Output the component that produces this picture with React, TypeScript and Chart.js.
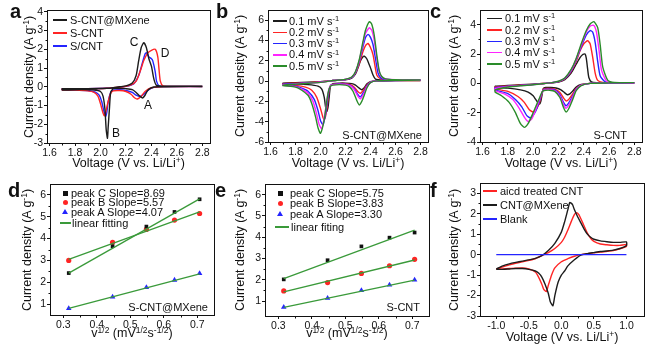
import React, { useEffect, useRef } from "react";
import { Chart, registerables } from "chart.js";
Chart.register(...registerables);

const FONT = "'Liberation Sans', Arial, Helvetica, sans-serif";
const BLACK = "#1c1c1c", RED = "#ff2424", BLUE = "#2424ff", MAGENTA = "#ff24ff", GREEN = "#2a8c2a", FIT = "#3a9a3a";

// ---- ticks ----
const cvXTicks = [1.6, 1.8, 2.0, 2.2, 2.4, 2.6, 2.8];
const cvXMinor = [1.7, 1.9, 2.1, 2.3, 2.5, 2.7];
const aYTicks = [-3, -2, -1, 0, 1, 2, 3, 4];
const aYMinor = [-2.5, -1.5, -0.5, 0.5, 1.5, 2.5, 3.5];
const bYTicks = [-6, -4, -2, 0, 2, 4, 6];
const bYMinor = [-5, -3, -1, 1, 3, 5];
const cYTicks = [-4, -2, 0, 2, 4];
const cYMinor = [-3, -1, 1, 3];
const rateXTicks = [0.3, 0.4, 0.5, 0.6, 0.7];
const rateXMinor = [0.35, 0.45, 0.55, 0.65];
const rateYTicks = [1, 2, 3, 4, 5, 6];
const rateYMinor = [1.5, 2.5, 3.5, 4.5, 5.5];
const fXTicks = [-1.0, -0.5, 0.0, 0.5, 1.0];
const fXMinor = [-0.75, -0.25, 0.25, 0.75];
const fYTicks = [-3, -2, -1, 0, 1, 2, 3];
const fYMinor = [-2.5, -1.5, -0.5, 0.5, 1.5, 2.5];

// ---- legends ----
const aNames = ["S-CNT@MXene", "S-CNT", "S/CNT"];
const scanRates = ["0.1", "0.2", "0.3", "0.4", "0.5"];
const fNames = ["aicd treated CNT", "CNT@MXene", "Blank"];
const dSlopes = ["8.69", "5.57", "4.07"];
const eSlopes = ["5.75", "3.83", "3.30"];

// ---- panel a ----
const aMxV = [2.8, 2.6, 2.45, 2.4, 2.37, 2.35, 2.33, 2.31, 2.28, 2.25, 2.2, 2.15, 2.1, 2.08, 2.07, 2.06, 2.055, 2.045, 2.035, 2.02, 2.0, 1.95, 1.85, 1.7, 1.7, 1.9, 2.05, 2.1, 2.15, 2.2, 2.25, 2.28, 2.3, 2.32, 2.34, 2.36, 2.38, 2.4, 2.42, 2.44, 2.5, 2.8];
const aMxI = [0.02, 0.02, 0.0, -0.05, -0.2, -0.45, -0.6, -0.5, -0.3, -0.15, -0.1, -0.08, -0.1, -0.3, -1.2, -2.2, -2.75, -2.3, -1.2, -0.5, -0.25, -0.17, -0.15, -0.17, -0.1, -0.1, -0.08, -0.05, 0.0, 0.05, 0.2, 0.6, 1.4, 2.1, 2.35, 2.1, 1.5, 1.1, 0.4, 0.08, 0.03, 0.03];
const aScV = [2.8, 2.5, 2.4, 2.35, 2.32, 2.29, 2.27, 2.24, 2.2, 2.15, 2.1, 2.08, 2.06, 2.04, 2.03, 2.02, 2.0, 1.98, 1.95, 1.9, 1.8, 1.7, 1.7, 1.9, 2.05, 2.1, 2.18, 2.24, 2.28, 2.31, 2.34, 2.37, 2.4, 2.43, 2.45, 2.46, 2.47, 2.49, 2.55, 2.8];
const aScI = [0.02, 0.01, -0.05, -0.25, -0.5, -0.65, -0.6, -0.4, -0.25, -0.2, -0.22, -0.35, -0.8, -1.4, -1.55, -1.4, -0.9, -0.5, -0.3, -0.22, -0.18, -0.17, -0.1, -0.1, -0.08, -0.05, 0.0, 0.1, 0.3, 0.8, 1.4, 1.8, 1.95, 2.0, 1.6, 0.9, 0.3, 0.05, 0.02, 0.02];
const aSlV = [2.8, 2.5, 2.42, 2.38, 2.34, 2.31, 2.28, 2.25, 2.2, 2.15, 2.1, 2.08, 2.06, 2.05, 2.04, 2.03, 2.01, 1.99, 1.96, 1.9, 1.8, 1.7, 1.7, 1.9, 2.05, 2.12, 2.2, 2.26, 2.3, 2.33, 2.35, 2.36, 2.38, 2.4, 2.41, 2.43, 2.44, 2.46, 2.5, 2.8];
const aSlI = [0.02, 0.01, -0.03, -0.15, -0.4, -0.52, -0.45, -0.3, -0.2, -0.15, -0.18, -0.3, -0.8, -1.35, -1.58, -1.4, -0.8, -0.45, -0.28, -0.2, -0.17, -0.16, -0.1, -0.1, -0.08, -0.05, 0.02, 0.15, 0.6, 1.3, 1.75, 1.82, 1.6, 1.5, 1.4, 0.8, 0.3, 0.05, 0.02, 0.02];

// ---- panel b (S-CNT@MXene, scan rates) ----
const b1V = [2.8, 2.6, 2.45, 2.4, 2.37, 2.35, 2.33, 2.31, 2.28, 2.25, 2.2, 2.15, 2.1, 2.08, 2.07, 2.06, 2.05, 2.04, 2.03, 2.01, 1.98, 1.9, 1.8, 1.7, 1.7, 1.8, 1.9, 2.0, 2.05, 2.1, 2.15, 2.2, 2.25, 2.28, 2.3, 2.32, 2.34, 2.35, 2.37, 2.39, 2.4, 2.42, 2.44, 2.5, 2.6, 2.8];
const b1I = [0.05, 0.05, 0.02, -0.05, -0.3, -0.65, -0.85, -0.7, -0.4, -0.25, -0.2, -0.2, -0.25, -0.5, -1.5, -2.6, -3.0, -2.5, -1.6, -0.8, -0.5, -0.35, -0.3, -0.3, -0.2, -0.15, -0.1, -0.05, 0.0, 0.05, 0.08, 0.12, 0.3, 0.7, 1.3, 2.0, 2.4, 2.45, 2.2, 1.6, 1.3, 0.6, 0.2, 0.1, 0.08, 0.07];
const b2V = [2.8, 2.6, 2.45, 2.4, 2.37, 2.35, 2.32, 2.3, 2.27, 2.24, 2.2, 2.15, 2.1, 2.08, 2.07, 2.06, 2.05, 2.04, 2.03, 2.02, 2.0, 1.97, 1.93, 1.88, 1.8, 1.7, 1.7, 1.8, 1.9, 2.0, 2.05, 2.1, 2.15, 2.2, 2.25, 2.28, 2.31, 2.34, 2.36, 2.38, 2.4, 2.42, 2.44, 2.45, 2.47, 2.5, 2.6, 2.8];
const b2I = [0.06, 0.05, 0.02, -0.08, -0.4, -0.8, -1.2, -1.05, -0.6, -0.35, -0.25, -0.25, -0.3, -0.45, -0.9, -1.8, -2.8, -3.5, -3.8, -3.6, -2.7, -1.6, -0.9, -0.6, -0.42, -0.35, -0.25, -0.2, -0.15, -0.08, -0.02, 0.05, 0.1, 0.15, 0.35, 0.8, 1.7, 2.9, 3.5, 3.7, 3.3, 2.6, 1.2, 0.6, 0.3, 0.15, 0.1, 0.08];
const b3V = [2.8, 2.6, 2.45, 2.4, 2.37, 2.35, 2.32, 2.3, 2.27, 2.24, 2.2, 2.15, 2.1, 2.08, 2.07, 2.06, 2.05, 2.04, 2.02, 2.0, 1.98, 1.95, 1.9, 1.85, 1.8, 1.7, 1.7, 1.8, 1.9, 2.0, 2.05, 2.1, 2.15, 2.2, 2.25, 2.28, 2.31, 2.34, 2.36, 2.38, 2.4, 2.42, 2.44, 2.46, 2.48, 2.5, 2.6, 2.8];
const b3I = [0.07, 0.06, 0.02, -0.1, -0.5, -1.0, -1.55, -1.35, -0.75, -0.42, -0.3, -0.28, -0.32, -0.45, -0.8, -1.5, -2.4, -3.3, -4.3, -3.9, -2.9, -1.8, -1.0, -0.7, -0.5, -0.4, -0.3, -0.25, -0.18, -0.1, -0.03, 0.05, 0.1, 0.15, 0.35, 0.85, 1.9, 3.4, 4.3, 4.6, 4.3, 3.6, 2.2, 0.8, 0.35, 0.2, 0.12, 0.1];
const b4V = [2.8, 2.6, 2.45, 2.4, 2.37, 2.35, 2.32, 2.3, 2.27, 2.24, 2.2, 2.15, 2.1, 2.08, 2.07, 2.06, 2.05, 2.03, 2.01, 1.99, 1.97, 1.94, 1.9, 1.85, 1.8, 1.7, 1.7, 1.8, 1.9, 2.0, 2.05, 2.1, 2.15, 2.2, 2.25, 2.28, 2.31, 2.34, 2.36, 2.39, 2.41, 2.43, 2.45, 2.47, 2.49, 2.52, 2.6, 2.8];
const b4I = [0.08, 0.07, 0.02, -0.12, -0.6, -1.15, -1.75, -1.5, -0.85, -0.48, -0.33, -0.3, -0.35, -0.45, -0.7, -1.2, -2.0, -3.6, -4.7, -4.3, -3.3, -2.0, -1.2, -0.8, -0.55, -0.42, -0.35, -0.28, -0.2, -0.12, -0.04, 0.05, 0.1, 0.16, 0.38, 0.9, 2.0, 3.7, 4.7, 5.25, 5.0, 4.0, 2.3, 0.9, 0.4, 0.2, 0.13, 0.1];
const b5V = [2.8, 2.6, 2.45, 2.4, 2.37, 2.35, 2.33, 2.31, 2.29, 2.26, 2.23, 2.2, 2.15, 2.1, 2.08, 2.07, 2.06, 2.05, 2.03, 2.0, 1.98, 1.96, 1.93, 1.9, 1.85, 1.8, 1.7, 1.7, 1.8, 1.9, 2.0, 2.05, 2.1, 2.15, 2.2, 2.25, 2.28, 2.31, 2.34, 2.36, 2.39, 2.41, 2.43, 2.45, 2.47, 2.49, 2.52, 2.6, 2.8];
const b5I = [0.09, 0.08, 0.02, -0.15, -0.7, -1.4, -2.0, -2.35, -1.9, -1.0, -0.55, -0.4, -0.35, -0.4, -0.5, -0.75, -1.2, -2.0, -3.8, -5.15, -4.6, -3.5, -2.2, -1.4, -0.9, -0.6, -0.45, -0.4, -0.3, -0.22, -0.13, -0.05, 0.05, 0.1, 0.17, 0.4, 0.95, 2.1, 3.9, 5.0, 5.85, 5.6, 4.5, 2.6, 1.0, 0.45, 0.22, 0.14, 0.1];

// ---- panel c (S-CNT, scan rates) ----
const c1V = [2.8, 2.6, 2.45, 2.38, 2.34, 2.31, 2.29, 2.27, 2.25, 2.22, 2.18, 2.14, 2.1, 2.08, 2.07, 2.06, 2.05, 2.04, 2.02, 2.0, 1.96, 1.9, 1.8, 1.7, 1.7, 1.8, 1.9, 2.0, 2.05, 2.1, 2.15, 2.2, 2.25, 2.3, 2.34, 2.37, 2.39, 2.41, 2.42, 2.43, 2.44, 2.46, 2.5, 2.6, 2.8];
const c1I = [0.02, 0.02, 0.0, -0.08, -0.25, -0.55, -0.72, -0.78, -0.65, -0.45, -0.32, -0.28, -0.28, -0.35, -0.8, -1.25, -1.42, -1.35, -1.1, -0.85, -0.6, -0.45, -0.33, -0.28, -0.2, -0.15, -0.1, -0.06, -0.03, 0.0, 0.03, 0.08, 0.25, 0.7, 1.3, 1.75, 1.95, 2.0, 1.7, 1.0, 0.4, 0.1, 0.04, 0.03, 0.02];
const c2V = [2.8, 2.6, 2.45, 2.38, 2.34, 2.31, 2.28, 2.26, 2.24, 2.21, 2.17, 2.13, 2.1, 2.08, 2.07, 2.05, 2.03, 2.0, 1.97, 1.93, 1.88, 1.8, 1.7, 1.7, 1.8, 1.9, 2.0, 2.05, 2.1, 2.15, 2.2, 2.25, 2.3, 2.34, 2.37, 2.4, 2.43, 2.45, 2.47, 2.49, 2.51, 2.55, 2.6, 2.8];
const c2I = [0.03, 0.02, 0.0, -0.1, -0.35, -0.75, -1.1, -1.2, -1.0, -0.6, -0.4, -0.35, -0.35, -0.4, -0.7, -1.3, -1.7, -1.95, -1.8, -1.3, -0.9, -0.55, -0.38, -0.25, -0.18, -0.12, -0.07, -0.03, 0.0, 0.04, 0.1, 0.3, 0.8, 1.5, 2.2, 2.7, 2.9, 2.7, 1.8, 0.7, 0.2, 0.06, 0.04, 0.03];
const c3V = [2.8, 2.6, 2.45, 2.38, 2.34, 2.31, 2.28, 2.26, 2.24, 2.21, 2.17, 2.13, 2.1, 2.08, 2.07, 2.05, 2.02, 1.98, 1.95, 1.91, 1.86, 1.8, 1.7, 1.7, 1.8, 1.9, 2.0, 2.05, 2.1, 2.15, 2.2, 2.25, 2.3, 2.34, 2.38, 2.42, 2.45, 2.47, 2.49, 2.51, 2.53, 2.57, 2.62, 2.8];
const c3I = [0.03, 0.02, 0.0, -0.12, -0.4, -0.9, -1.35, -1.53, -1.3, -0.75, -0.45, -0.4, -0.4, -0.45, -0.65, -1.2, -1.9, -2.35, -2.2, -1.6, -1.1, -0.7, -0.45, -0.3, -0.2, -0.14, -0.08, -0.04, 0.0, 0.05, 0.12, 0.33, 0.85, 1.6, 2.5, 3.3, 3.6, 3.5, 2.8, 1.5, 0.5, 0.1, 0.05, 0.03];
const c4V = [2.8, 2.6, 2.45, 2.38, 2.34, 2.31, 2.28, 2.26, 2.24, 2.21, 2.17, 2.13, 2.1, 2.08, 2.07, 2.05, 2.02, 1.99, 1.96, 1.93, 1.89, 1.84, 1.78, 1.7, 1.7, 1.8, 1.9, 2.0, 2.05, 2.1, 2.15, 2.2, 2.25, 2.3, 2.34, 2.38, 2.42, 2.45, 2.48, 2.5, 2.52, 2.54, 2.58, 2.63, 2.8];
const c4I = [0.04, 0.03, 0.0, -0.13, -0.45, -1.0, -1.5, -1.7, -1.45, -0.85, -0.5, -0.43, -0.43, -0.48, -0.62, -1.1, -1.8, -2.4, -2.6, -2.3, -1.7, -1.1, -0.75, -0.5, -0.35, -0.22, -0.15, -0.09, -0.05, 0.0, 0.05, 0.13, 0.35, 0.9, 1.65, 2.6, 3.5, 3.9, 3.95, 3.5, 2.3, 0.9, 0.15, 0.05, 0.03];
const c5V = [2.8, 2.6, 2.45, 2.38, 2.34, 2.31, 2.28, 2.26, 2.24, 2.21, 2.17, 2.13, 2.1, 2.08, 2.07, 2.05, 2.02, 1.99, 1.96, 1.93, 1.9, 1.86, 1.81, 1.75, 1.7, 1.7, 1.8, 1.9, 2.0, 2.05, 2.1, 2.15, 2.2, 2.25, 2.3, 2.34, 2.38, 2.42, 2.45, 2.48, 2.51, 2.53, 2.55, 2.59, 2.64, 2.8];
const c5I = [0.05, 0.03, 0.0, -0.15, -0.5, -1.15, -1.75, -1.95, -1.65, -0.95, -0.55, -0.47, -0.47, -0.5, -0.6, -1.0, -1.6, -2.2, -2.75, -3.0, -2.75, -2.0, -1.3, -0.85, -0.6, -0.45, -0.25, -0.16, -0.1, -0.05, 0.0, 0.05, 0.14, 0.37, 0.95, 1.7, 2.7, 3.6, 4.05, 4.2, 3.8, 2.6, 1.1, 0.2, 0.06, 0.04];

// ---- panel d (S-CNT@MXene peak currents) ----
const sqrtRate = [0.316, 0.447, 0.548, 0.632, 0.707];
const dPeakC = [2.42, 3.65, 4.55, 5.22, 5.8];
const dPeakB = [3.0, 3.83, 4.42, 4.85, 5.15];
const dPeakA = [0.8, 1.33, 1.76, 2.1, 2.4];
const fitX = [0.316, 0.707];
const dFitC = [2.42, 5.82];
const dFitB = [3.05, 5.22];
const dFitA = [0.8, 2.38];

// ---- panel e (S-CNT peak currents) ----
const ePeakC = [2.02, 2.92, 3.57, 3.98, 4.22];
const ePeakB = [1.48, 1.87, 2.3, 2.66, 2.96];
const ePeakA = [0.71, 1.14, 1.5, 1.76, 1.99];
const eFitC = [2.06, 4.33];
const eFitB = [1.43, 2.93];
const eFitA = [0.7, 1.98];

// ---- panel f (symmetric cells) ----
const fRedV = [-1.0, -0.8, -0.6, -0.4, -0.3, -0.2, -0.1, 0.0, 0.05, 0.1, 0.15, 0.2, 0.23, 0.27, 0.3, 0.35, 0.4, 0.45, 0.5, 0.6, 0.7, 0.8, 0.9, 1.0, 1.0, 0.9, 0.8, 0.6, 0.4, 0.3, 0.2, 0.1, 0.0, -0.1, -0.15, -0.2, -0.23, -0.27, -0.3, -0.35, -0.4, -0.5, -0.6, -0.8, -1.0];
const fRedI = [-0.7, -0.5, -0.35, -0.2, -0.05, 0.1, 0.3, 0.6, 0.85, 1.2, 1.6, 1.95, 2.05, 1.95, 1.75, 1.4, 1.05, 0.8, 0.65, 0.52, 0.48, 0.45, 0.45, 0.5, 0.4, 0.28, 0.2, 0.12, 0.05, 0.0, -0.08, -0.2, -0.35, -0.65, -1.0, -1.5, -1.8, -1.7, -1.45, -1.1, -0.85, -0.7, -0.65, -0.68, -0.72];
const fBlackV = [-1.0, -0.9, -0.8, -0.7, -0.6, -0.5, -0.4, -0.3, -0.2, -0.1, 0.0, 0.05, 0.1, 0.13, 0.17, 0.2, 0.25, 0.3, 0.35, 0.4, 0.45, 0.5, 0.6, 0.7, 0.8, 0.9, 1.0, 1.0, 0.9, 0.8, 0.7, 0.6, 0.5, 0.4, 0.3, 0.2, 0.1, 0.05, 0.0, -0.05, -0.1, -0.13, -0.17, -0.2, -0.25, -0.3, -0.35, -0.4, -0.5, -0.6, -0.7, -0.8, -0.9, -1.0];
const fBlackI = [-0.7, -0.55, -0.45, -0.38, -0.32, -0.26, -0.18, -0.05, 0.2, 0.55, 1.1, 1.6, 2.2, 2.55, 2.45, 2.2, 1.85, 1.55, 1.25, 1.0, 0.85, 0.75, 0.67, 0.63, 0.6, 0.6, 0.62, 0.45, 0.3, 0.22, 0.18, 0.15, 0.1, 0.05, -0.02, -0.25, -0.55, -0.8, -1.0, -1.35, -2.0, -2.5, -2.3, -1.9, -1.45, -1.1, -0.9, -0.8, -0.72, -0.68, -0.68, -0.7, -0.72, -0.72];
const fBlankV = [-1.0, 1.0];
const fBlankI = [0.0, 0.0];

// ---------------------------------------------------------------
const zip = (xs: number[], ys: number[]) => xs.map((x, i) => ({ x, y: ys[i] }));
const curve = (xs: number[], ys: number[], color: string) => ({
  data: zip(xs, ys), showLine: true, borderColor: color, backgroundColor: color,
  borderWidth: 1.4, pointRadius: 0, tension: 0.2,
});
const markers = (ys: number[], color: string, style: string, r: number) => ({
  data: zip(sqrtRate, ys), showLine: false, borderColor: color, backgroundColor: color,
  pointStyle: style, pointRadius: r, borderWidth: 0,
});
const fitLine = (ys: number[]) => ({
  data: zip(fitX, ys), showLine: true, borderColor: FIT, borderWidth: 1.3, pointRadius: 0, tension: 0,
});

// frame + minor ticks (positions come from the chart's own scales)
const framePlugin = {
  id: "frame",
  afterDraw(chart: any, _args: any, opts: any) {
    const { ctx, chartArea: a, scales } = chart;
    const L = Math.round(a.left) + 0.5, T = Math.round(a.top) + 0.5;
    const R = Math.round(a.right) + 0.5, B = Math.round(a.bottom) + 0.5;
    ctx.save();
    ctx.strokeStyle = "#111";
    ctx.lineWidth = 1;
    ctx.strokeRect(L, T, R - L, B - T);
    ctx.beginPath();
    (opts.xMinor || []).forEach((v: number) => {
      const px = Math.round(scales.x.getPixelForValue(v)) + 0.5;
      ctx.moveTo(px, B); ctx.lineTo(px, B + 2);
    });
    (opts.yMinor || []).forEach((v: number) => {
      const py = Math.round(scales.y.getPixelForValue(v)) + 0.5;
      ctx.moveTo(L, py); ctx.lineTo(L - 2, py);
    });
    ctx.stroke();
    ctx.restore();
  },
};

const YW = 30, XH = 20, PT = 10, PR = 10;

function Panel(p: any) {
  const ref = useRef<HTMLCanvasElement>(null);
  const w = p.R - p.L + YW + PR;
  const h = p.B - p.T + PT + XH;
  useEffect(() => {
    const tickFont = { family: FONT, size: 10.5 };
    const chart = new Chart(ref.current as HTMLCanvasElement, {
      type: "scatter",
      data: { datasets: p.datasets },
      options: {
        responsive: false,
        animation: false,
        devicePixelRatio: 1,
        layout: { padding: { top: PT, right: PR, left: 0, bottom: 0 } },
        plugins: { legend: { display: false }, tooltip: { enabled: false },
          frame: { xMinor: p.xMinor, yMinor: p.yMinor } },
        scales: {
          x: {
            type: "linear", min: p.xMin, max: p.xMax,
            afterBuildTicks: (s: any) => { s.ticks = p.xTicks.map((v: number) => ({ value: v })); },
            afterFit: (s: any) => { s.height = XH; },
            grid: { drawOnChartArea: false, tickLength: 3, color: "#111" },
            border: { display: false },
            ticks: { padding: 1, color: "#111", font: tickFont, maxRotation: 0, autoSkip: false,
              callback: (v: any) => Number(v).toFixed(1) },
          },
          y: {
            type: "linear", min: p.yMin, max: p.yMax,
            afterBuildTicks: (s: any) => { s.ticks = p.yTicks.map((v: number) => ({ value: v })); },
            afterFit: (s: any) => { s.width = YW; },
            grid: { drawOnChartArea: false, tickLength: 3, color: "#111" },
            border: { display: false },
            ticks: { padding: 1, color: "#111", font: tickFont, autoSkip: false,
              callback: (v: any) => String(Number(v)) },
          },
        },
      } as any,
      plugins: [framePlugin],
    });
    return () => chart.destroy();
  }, []);
  return (
    <canvas ref={ref} width={w} height={h}
      style={{ position: "absolute", left: p.L - YW, top: p.T - PT, width: w, height: h }} />
  );
}

const Sup = ({ children }: any) => (
  <span style={{ fontSize: "0.68em", position: "relative", top: "-0.5em" }}>{children}</span>
);

function Txt({ x, y, size = 11, bold = false, align = "left", color = "#111", children }: any) {
  const tx = align === "center" ? "translateX(-50%)" : align === "right" ? "translateX(-100%)" : "none";
  return (
    <div style={{ position: "absolute", left: x, top: y - 0.846 * size, fontSize: size, lineHeight: `${size}px`,
      fontWeight: bold ? "bold" : "normal", whiteSpace: "nowrap", transform: tx, color, fontFamily: FONT }}>
      {children}
    </div>
  );
}

function YTitle({ cx, cy }: any) {
  return (
    <div style={{ position: "absolute", left: cx, top: cy, transform: "translate(-50%,-50%) rotate(-90deg)",
      whiteSpace: "nowrap", fontSize: 12.5, lineHeight: "13px", fontFamily: FONT, color: "#111" }}>
      Current density (A g<Sup>-1</Sup>)
    </div>
  );
}

const VoltTitle = ({ cx, cy }: any) => (
  <Txt x={cx} y={cy + 4.5} size={12.5} align="center">Voltage (V vs. Li/Li<Sup>+</Sup>)</Txt>
);
const RateTitle = ({ cx, cy }: any) => (
  <Txt x={cx} y={cy + 4.5} size={12.5} align="center">v<Sup>1/2</Sup> (mV<Sup>1/2</Sup>s<Sup>-1/2</Sup>)</Txt>
);

const LLine = ({ x1, x2, y, color }: any) => (
  <div style={{ position: "absolute", left: x1, top: y - 0.75, width: x2 - x1, height: 1.5, background: color }} />
);

function Marker({ x, y, kind, color }: any) {
  if (kind === "tri")
    return <div style={{ position: "absolute", left: x - 3, top: y - 3, width: 0, height: 0,
      borderLeft: "3px solid transparent", borderRight: "3px solid transparent", borderBottom: `5px solid ${color}` }} />;
  const r = kind === "circle" ? "50%" : "0";
  return <div style={{ position: "absolute", left: x - 2.5, top: y - 2.5, width: 5, height: 5, borderRadius: r, background: color }} />;
}

const rateColors = [BLACK, RED, BLUE, MAGENTA, GREEN];

export default function App() {
  const aSets = [curve(aMxV, aMxI, BLACK), curve(aScV, aScI, RED), curve(aSlV, aSlI, BLUE)];
  const bSets = [curve(b5V, b5I, GREEN), curve(b4V, b4I, MAGENTA), curve(b3V, b3I, BLUE), curve(b2V, b2I, RED), curve(b1V, b1I, BLACK)];
  const cSets = [curve(c5V, c5I, GREEN), curve(c4V, c4I, MAGENTA), curve(c3V, c3I, BLUE), curve(c2V, c2I, RED), curve(c1V, c1I, BLACK)];
  const dSets = [fitLine(dFitC), fitLine(dFitB), fitLine(dFitA),
    markers(dPeakC, "#111", "rect", 2.6), markers(dPeakB, RED, "circle", 2.6), markers(dPeakA, BLUE, "triangle", 3.2)];
  const eSets = [fitLine(eFitC), fitLine(eFitB), fitLine(eFitA),
    markers(ePeakC, "#111", "rect", 2.6), markers(ePeakB, RED, "circle", 2.6), markers(ePeakA, BLUE, "triangle", 3.2)];
  const fSets = [curve(fBlankV, fBlankI, BLUE), curve(fBlackV, fBlackI, BLACK), curve(fRedV, fRedI, RED)];

  const cvRange = { xMin: 1.58, xMax: 2.86, xTicks: cvXTicks, xMinor: cvXMinor };
  const rateRange = { xMin: 0.26, xMax: 0.75, xTicks: rateXTicks, xMinor: rateXMinor, yTicks: rateYTicks, yMinor: rateYMinor };

  return (
    <div style={{ position: "fixed", left: 0, top: 0, width: 653, height: 350, background: "#fff", fontFamily: FONT, overflow: "hidden" }}>
      {/* a */}
      <Panel L={47} T={10} R={210} B={143} {...cvRange} yMin={-3} yMax={4.1} yTicks={aYTicks} yMinor={aYMinor} datasets={aSets} />
      <Txt x={10} y={18} size={20} bold>a</Txt>
      <YTitle cx={30} cy={76.5} />
      <VoltTitle cx={128.5} cy={163} />
      {aNames.map((n, i) => (
        <React.Fragment key={n}>
          <LLine x1={53} x2={67} y={20 + i * 13} color={[BLACK, RED, BLUE][i]} />
          <Txt x={70} y={24 + i * 13}>{n}</Txt>
        </React.Fragment>
      ))}
      <Txt x={134} y={46} size={12} align="center">C</Txt>
      <Txt x={165} y={57} size={12} align="center">D</Txt>
      <Txt x={148} y={109} size={12} align="center">A</Txt>
      <Txt x={116} y={137} size={12} align="center">B</Txt>

      {/* b */}
      <Panel L={268} T={10} R={428} B={142} {...cvRange} yMin={-6} yMax={7} yTicks={bYTicks} yMinor={bYMinor} datasets={bSets} />
      <Txt x={216} y={18} size={20} bold>b</Txt>
      <YTitle cx={241} cy={76} />
      <VoltTitle cx={348} cy={163} />
      {scanRates.map((r, i) => (
        <React.Fragment key={r}>
          <LLine x1={273} x2={287} y={21 + i * 11.25} color={rateColors[i]} />
          <Txt x={289} y={25 + i * 11.25}>{r} mV s<Sup>-1</Sup></Txt>
        </React.Fragment>
      ))}
      <Txt x={422} y={139} align="right">S-CNT@MXene</Txt>

      {/* c */}
      <Panel L={480} T={10} R={642} B={142} {...cvRange} yMin={-4} yMax={5} yTicks={cYTicks} yMinor={cYMinor} datasets={cSets} />
      <Txt x={430} y={18} size={20} bold>c</Txt>
      <YTitle cx={455} cy={76} />
      <VoltTitle cx={561} cy={163} />
      {scanRates.map((r, i) => (
        <React.Fragment key={r}>
          <LLine x1={487} x2={502} y={18.5 + i * 11.4} color={rateColors[i]} />
          <Txt x={505} y={22.5 + i * 11.4}>{r} mV s<Sup>-1</Sup></Txt>
        </React.Fragment>
      ))}
      <Txt x={627} y={139} align="right">S-CNT</Txt>

      {/* d */}
      <Panel L={50} T={184} R={214} B={315} {...rateRange} yMin={0.5} yMax={6.5} datasets={dSets} />
      <Txt x={8} y={197} size={20} bold>d</Txt>
      <YTitle cx={27.5} cy={249.5} />
      <RateTitle cx={132} cy={333} />
      {["C", "B", "A"].map((k, i) => (
        <React.Fragment key={k}>
          <Marker x={65} y={193 + i * 9.7} kind={["sq", "circle", "tri"][i]} color={["#111", RED, BLUE][i]} />
          <Txt x={71} y={197 + i * 9.7}>peak {k} Slope={dSlopes[i]}</Txt>
        </React.Fragment>
      ))}
      <LLine x1={60} x2={71} y={223} color={FIT} />
      <Txt x={72} y={227}>linear fitting</Txt>
      <Txt x={208} y={311} align="right">S-CNT@MXene</Txt>

      {/* e */}
      <Panel L={265} T={184} R={429} B={316} {...rateRange} yMin={0.3} yMax={6.5} datasets={eSets} />
      <Txt x={215} y={197} size={20} bold>e</Txt>
      <YTitle cx={241} cy={250} />
      <RateTitle cx={347} cy={333} />
      {["C", "B", "A"].map((k, i) => (
        <React.Fragment key={k}>
          <Marker x={280} y={193 + i * 10.5} kind={["sq", "circle", "tri"][i]} color={["#111", RED, BLUE][i]} />
          <Txt x={290} y={197 + i * 10.5}>peak {k} Slope={eSlopes[i]}</Txt>
        </React.Fragment>
      ))}
      <LLine x1={275} x2={289} y={227} color={FIT} />
      <Txt x={291} y={231}>linear fiting</Txt>
      <Txt x={420} y={311} align="right">S-CNT</Txt>

      {/* f */}
      <Panel L={480} T={183} R={644} B={316} xMin={-1.25} xMax={1.27} xTicks={fXTicks} xMinor={fXMinor} yMin={-3} yMax={3.5} yTicks={fYTicks} yMinor={fYMinor} datasets={fSets} />
      <Txt x={430} y={197} size={20} bold>f</Txt>
      <YTitle cx={455} cy={249.5} />
      <VoltTitle cx={562} cy={337} />
      {fNames.map((n, i) => (
        <React.Fragment key={n}>
          <LLine x1={483} x2={497} y={191 + i * 14} color={[RED, BLACK, BLUE][i]} />
          <Txt x={500} y={195 + i * 14}>{n}</Txt>
        </React.Fragment>
      ))}
    </div>
  );
}
